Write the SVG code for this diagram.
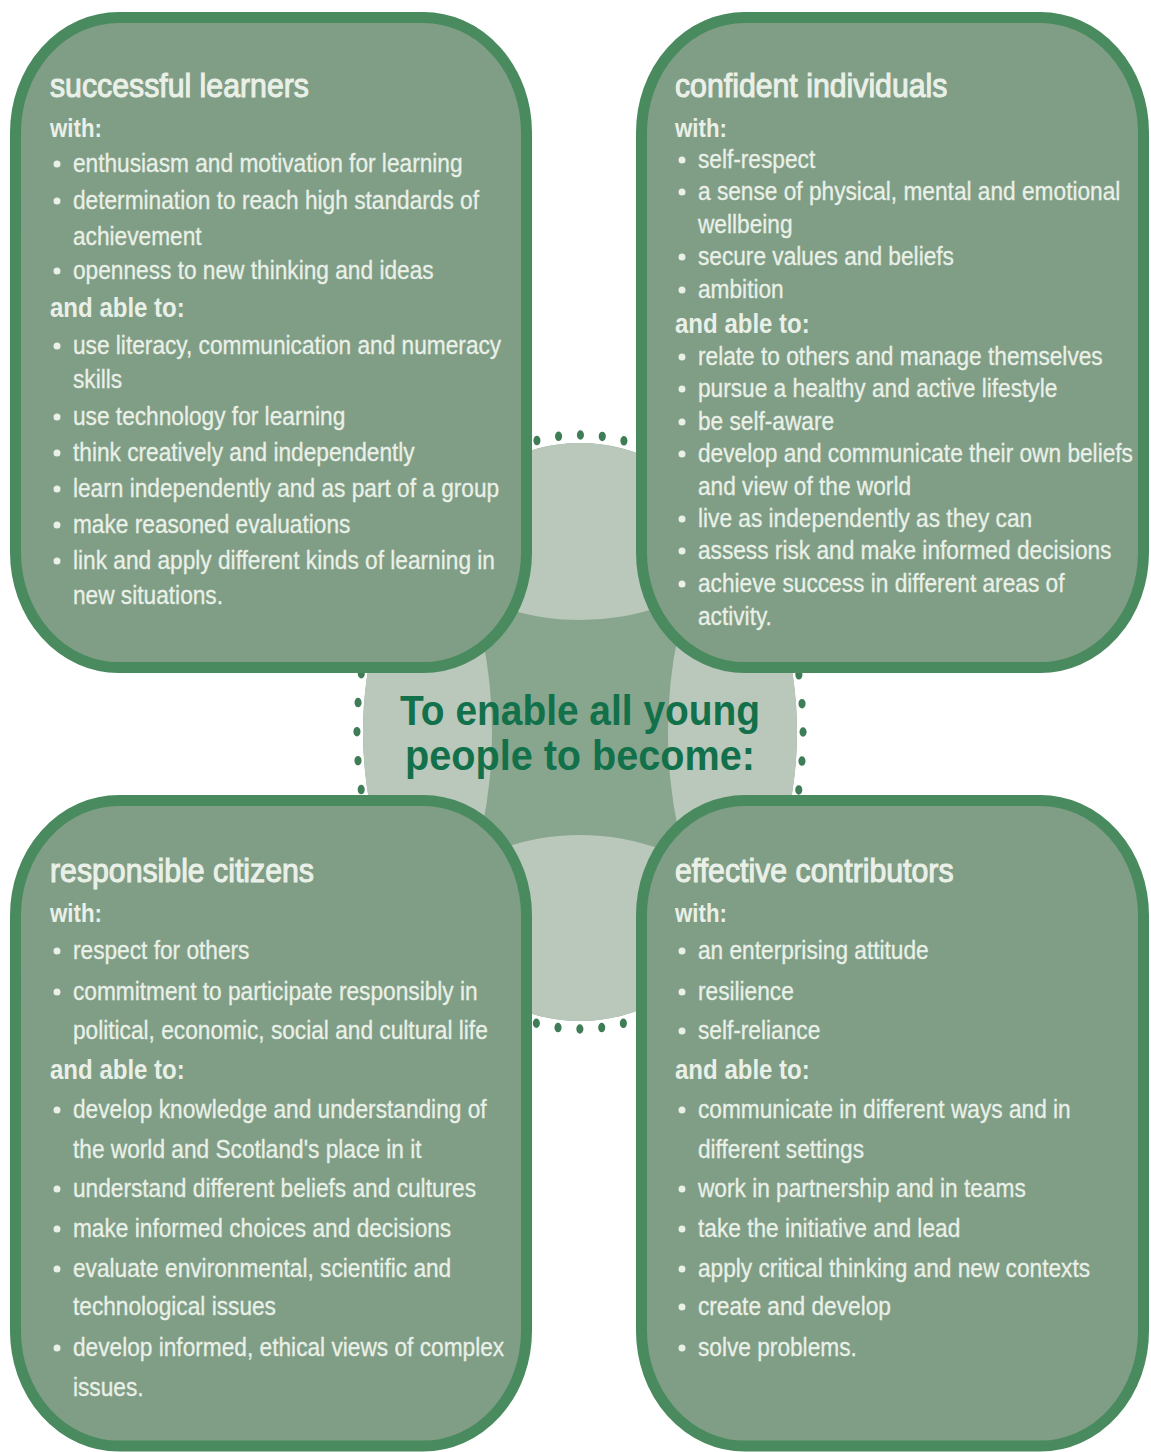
<svg xmlns="http://www.w3.org/2000/svg" width="1151" height="1452" viewBox="0 0 1151 1452">
<defs>
<style>
.box{fill:#7f9e85;stroke:#4a8a5f;stroke-width:11}
.t{font-family:"Liberation Sans",Arial,Helvetica,sans-serif;fill:#eaf0e8}
.h{font-size:34px;stroke:#eaf0e8;stroke-width:1.1}
.w{font-size:25px;font-weight:bold}
.a{font-size:27px;font-weight:bold}
.b{font-size:25.5px;stroke:#eaf0e8;stroke-width:0.3}
.bul{fill:#eaf0e8}
.light{fill:#b9c8bb}
.ctext{font-family:"Liberation Sans",Arial,Helvetica,sans-serif;font-weight:bold;font-size:43px;fill:#12704a}
</style>
<clipPath id="cc"><ellipse cx="580" cy="732" rx="217" ry="289"/></clipPath>
</defs>
<rect width="1151" height="1452" fill="#ffffff"/>

<g id="centre">
<ellipse cx="580" cy="732" rx="217" ry="289" fill="#88a68e"/>
<g clip-path="url(#cc)">
<ellipse class="light" cx="580" cy="435" rx="215" ry="185"/>
<ellipse class="light" cx="580" cy="1029" rx="215" ry="194"/>
<ellipse class="light" cx="362" cy="732" rx="130" ry="250"/>
<ellipse class="light" cx="798" cy="732" rx="130" ry="250"/>
</g>
<circle cx="0" cy="0" r="297" transform="translate(580 732) scale(0.751 1)" fill="none" stroke="#3f7d56" stroke-width="9.5" stroke-linecap="round" stroke-dasharray="0 29.158"/>
</g>

<g id="connectors"></g>

<g id="successful-learners">
<rect class="box" x="15.5" y="17.5" width="511" height="650" rx="103" ry="115"/>
<g class="bul">
<circle cx="57" cy="164" r="3.5"/><circle cx="57" cy="201" r="3.5"/><circle cx="57" cy="271" r="3.5"/>
<circle cx="57" cy="346" r="3.5"/><circle cx="57" cy="417" r="3.5"/><circle cx="57" cy="453" r="3.5"/>
<circle cx="57" cy="489" r="3.5"/><circle cx="57" cy="525" r="3.5"/><circle cx="57" cy="561" r="3.5"/>
</g>
<g class="t" transform="translate(50 0) scale(0.89 1)">
<text class="h" x="0" y="97">successful learners</text>
<text class="w" x="0" y="137">with:</text>
<text class="b" x="25.8" y="172">enthusiasm and motivation for learning</text>
<text class="b" x="25.8" y="209">determination to reach high standards of</text>
<text class="b" x="25.8" y="245">achievement</text>
<text class="b" x="25.8" y="279">openness to new thinking and ideas</text>
<text class="a" x="0" y="317">and able to:</text>
<text class="b" x="25.8" y="354">use literacy, communication and numeracy</text>
<text class="b" x="25.8" y="388">skills</text>
<text class="b" x="25.8" y="425">use technology for learning</text>
<text class="b" x="25.8" y="461">think creatively and independently</text>
<text class="b" x="25.8" y="497">learn independently and as part of a group</text>
<text class="b" x="25.8" y="533">make reasoned evaluations</text>
<text class="b" x="25.8" y="569">link and apply different kinds of learning in</text>
<text class="b" x="25.8" y="604">new situations.</text>
</g>
</g>

<g id="confident-individuals">
<rect class="box" x="641.5" y="17.5" width="502" height="650" rx="103" ry="115"/>
<g class="bul">
<circle cx="682" cy="160" r="3.5"/><circle cx="682" cy="192" r="3.5"/><circle cx="682" cy="257" r="3.5"/>
<circle cx="682" cy="290" r="3.5"/><circle cx="682" cy="357" r="3.5"/><circle cx="682" cy="389" r="3.5"/>
<circle cx="682" cy="422" r="3.5"/><circle cx="682" cy="454" r="3.5"/><circle cx="682" cy="519" r="3.5"/>
<circle cx="682" cy="551" r="3.5"/><circle cx="682" cy="584" r="3.5"/>
</g>
<g class="t" transform="translate(675 0) scale(0.89 1)">
<text class="h" x="0" y="97">confident individuals</text>
<text class="w" x="0" y="137">with:</text>
<text class="b" x="25.8" y="168">self-respect</text>
<text class="b" x="25.8" y="200">a sense of physical, mental and emotional</text>
<text class="b" x="25.8" y="233">wellbeing</text>
<text class="b" x="25.8" y="265">secure values and beliefs</text>
<text class="b" x="25.8" y="298">ambition</text>
<text class="a" x="0" y="333">and able to:</text>
<text class="b" x="25.8" y="365">relate to others and manage themselves</text>
<text class="b" x="25.8" y="397">pursue a healthy and active lifestyle</text>
<text class="b" x="25.8" y="430">be self-aware</text>
<text class="b" x="25.8" y="462">develop and communicate their own beliefs</text>
<text class="b" x="25.8" y="495">and view of the world</text>
<text class="b" x="25.8" y="527">live as independently as they can</text>
<text class="b" x="25.8" y="559">assess risk and make informed decisions</text>
<text class="b" x="25.8" y="592">achieve success in different areas of</text>
<text class="b" x="25.8" y="625">activity.</text>
</g>
</g>

<g id="responsible-citizens">
<rect class="box" x="15.5" y="800.5" width="511" height="645.5" rx="103" ry="115"/>
<g class="bul">
<circle cx="57" cy="951" r="3.5"/><circle cx="57" cy="992" r="3.5"/><circle cx="57" cy="1110" r="3.5"/>
<circle cx="57" cy="1189" r="3.5"/><circle cx="57" cy="1229" r="3.5"/><circle cx="57" cy="1269" r="3.5"/>
<circle cx="57" cy="1348" r="3.5"/>
</g>
<g class="t" transform="translate(50 0) scale(0.89 1)">
<text class="h" x="0" y="882">responsible citizens</text>
<text class="w" x="0" y="922">with:</text>
<text class="b" x="25.8" y="959">respect for others</text>
<text class="b" x="25.8" y="1000">commitment to participate responsibly in</text>
<text class="b" x="25.8" y="1039">political, economic, social and cultural life</text>
<text class="a" x="0" y="1079">and able to:</text>
<text class="b" x="25.8" y="1118">develop knowledge and understanding of</text>
<text class="b" x="25.8" y="1158">the world and Scotland's place in it</text>
<text class="b" x="25.8" y="1197">understand different beliefs and cultures</text>
<text class="b" x="25.8" y="1237">make informed choices and decisions</text>
<text class="b" x="25.8" y="1277">evaluate environmental, scientific and</text>
<text class="b" x="25.8" y="1315">technological issues</text>
<text class="b" x="25.8" y="1356">develop informed, ethical views of complex</text>
<text class="b" x="25.8" y="1396">issues.</text>
</g>
</g>

<g id="effective-contributors">
<rect class="box" x="641.5" y="800.5" width="502" height="645.5" rx="103" ry="115"/>
<g class="bul">
<circle cx="682" cy="951" r="3.5"/><circle cx="682" cy="992" r="3.5"/><circle cx="682" cy="1031" r="3.5"/>
<circle cx="682" cy="1110" r="3.5"/><circle cx="682" cy="1189" r="3.5"/><circle cx="682" cy="1229" r="3.5"/>
<circle cx="682" cy="1269" r="3.5"/><circle cx="682" cy="1307" r="3.5"/><circle cx="682" cy="1348" r="3.5"/>
</g>
<g class="t" transform="translate(675 0) scale(0.89 1)">
<text class="h" x="0" y="882">effective contributors</text>
<text class="w" x="0" y="922">with:</text>
<text class="b" x="25.8" y="959">an enterprising attitude</text>
<text class="b" x="25.8" y="1000">resilience</text>
<text class="b" x="25.8" y="1039">self-reliance</text>
<text class="a" x="0" y="1079">and able to:</text>
<text class="b" x="25.8" y="1118">communicate in different ways and in</text>
<text class="b" x="25.8" y="1158">different settings</text>
<text class="b" x="25.8" y="1197">work in partnership and in teams</text>
<text class="b" x="25.8" y="1237">take the initiative and lead</text>
<text class="b" x="25.8" y="1277">apply critical thinking and new contexts</text>
<text class="b" x="25.8" y="1315">create and develop</text>
<text class="b" x="25.8" y="1356">solve problems.</text>
</g>
</g>

<g id="centre-label">
<text class="ctext" x="400" y="725" textLength="360" lengthAdjust="spacingAndGlyphs">To enable all young</text>
<text class="ctext" x="405" y="770" textLength="350" lengthAdjust="spacingAndGlyphs">people to become:</text>
</g>
</svg>
